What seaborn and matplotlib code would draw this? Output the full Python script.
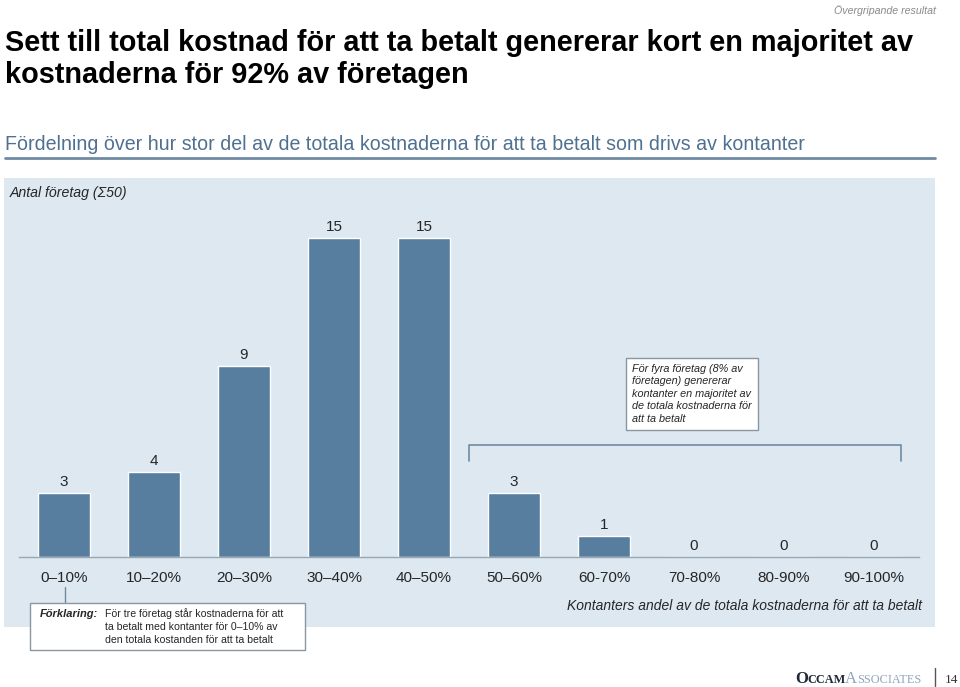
import pandas as pd
import matplotlib.pyplot as plt
import seaborn as sns
from matplotlib.patches import Rectangle
from matplotlib.lines import Line2D

# Data
categories = ["0\u201310%", "10\u201320%", "20\u201330%", "30\u201340%", "40\u201350%",
              "50\u201360%", "60-70%", "70-80%", "80-90%", "90-100%"]
counts = [3, 4, 9, 15, 15, 3, 1, 0, 0, 0]

title_lines = ["Sett till total kostnad för att ta betalt genererar kort en majoritet av",
               "kostnaderna för 92% av företagen"]
subtitle = "Fördelning över hur stor del av de totala kostnaderna för att ta betalt som drivs av kontanter"
callout = ("För fyra företag (8% av\nföretagen) genererar\nkontanter en majoritet av\n"
           "de totala kostnaderna för\natt ta betalt")
explain = "För tre företag står kostnaderna för att\nta betalt med kontanter för 0\u201310% av\nden totala kostanden för att ta betalt"

bar_color = "#577e9e"
panel_color = "#dde8f1"
line_color = "#6f8ba3"

sns.set_style("white")
plt.rcParams['font.family'] = ['Liberation Sans', 'DejaVu Sans']

df = pd.DataFrame({"category": categories, "count": counts})

fig = plt.figure(figsize=(9.6, 6.87), dpi=100)
W, H = 960, 687

def fx(x):
    return x / W

def fy(y):
    return 1 - y / H

# light blue panel behind the chart
fig.patches.append(Rectangle((fx(4), fy(627)), fx(931), 449 / H, transform=fig.transFigure,
                             facecolor=panel_color, edgecolor="none", zorder=-5))

ax = fig.add_axes([fx(19), fy(557), fx(900), (557 - 200) / H])
ax.set_facecolor("none")
sns.barplot(data=df, x="category", y="count", color=bar_color, edgecolor="white",
            linewidth=1, width=0.58, saturation=1, ax=ax)
ax.set_xlim(-0.5, 9.5)
ax.set_ylim(0, 357 / 21.25)
ax.set_xlabel("")
ax.set_ylabel("")
ax.set_yticks([])
for s in ["top", "left", "right"]:
    ax.spines[s].set_visible(False)
ax.spines["bottom"].set_color("#9aa7b2")
ax.spines["bottom"].set_linewidth(1)
ax.tick_params(axis="x", which="major", length=0, pad=10, labelsize=11)
ax.set_xticks([i - 0.5 for i in range(11)], minor=True)
ax.tick_params(axis="x", which="minor", length=4, color="#9aa7b2", direction="out")

for i, v in enumerate(counts):
    ax.annotate(str(v), (i, v), xytext=(0, 7), textcoords="offset pixels",
                ha="center", va="baseline", fontsize=11)

# texts above the chart
fig.text(fx(936), fy(5), "Övergripande resultat", ha="right", va="top", fontsize=7.7,
         style="italic", color="#8a8a8a")
for line, base in zip(title_lines, [51, 83]):
    fig.text(fx(5), fy(base), line, ha="left", va="baseline", fontsize=20.8,
             fontweight="bold", color="black")
fig.text(fx(5), fy(145), subtitle, ha="left", va="center", fontsize=14.1, color="#4f7191")
fig.lines.append(Line2D([fx(5), fx(935)], [fy(158), fy(158)], transform=fig.transFigure,
                        color=line_color, linewidth=2))
fig.text(fx(10), fy(193), "Antal företag (\u03a350)", ha="left", va="center", fontsize=10.2,
         style="italic")

# callout box and bracket
fig.text(fx(632), fy(364), callout, ha="left", va="top", fontsize=7.8, style="italic",
         linespacing=1.3,
         bbox=dict(boxstyle="square,pad=0.6", facecolor="white", edgecolor="#8a96a0", linewidth=1))
fig.lines.append(Line2D([fx(469), fx(469), fx(901), fx(901)],
                        [fy(461), fy(445), fy(445), fy(461)], transform=fig.transFigure,
                        color=line_color, linewidth=1.2))

# explanation box below first category
fig.lines.append(Line2D([fx(65), fx(65)], [fy(587), fy(603)], transform=fig.transFigure,
                        color=line_color, linewidth=1))
fig.patches.append(Rectangle((fx(30), fy(650)), fx(275), 47 / H, transform=fig.transFigure,
                             facecolor="white", edgecolor="#8a96a0", linewidth=1, zorder=2))
fig.text(fx(40), fy(614), "Förklaring:", ha="left", va="center", fontsize=8,
         style="italic", fontweight="bold", zorder=3)
fig.text(fx(105), fy(608), explain, ha="left", va="top", fontsize=7.6, linespacing=1.38,
         zorder=3)

fig.text(fx(922), fy(606), "Kontanters andel av de totala kostnaderna för att ta betalt",
         ha="right", va="center", fontsize=10, style="italic")

# footer logo, pieces placed one after the other
renderer = fig.canvas.get_renderer()
x = 795
for txt, size, weight, col in [("O", 12, "bold", "#1f2a36"), ("CCAM", 8.8, "bold", "#1f2a36"),
                               ("A", 12, "normal", "#8fa5bb"), ("SSOCIATES", 8.8, "normal", "#8fa5bb")]:
    t = fig.text(fx(x), fy(683), txt, ha="left", va="baseline", fontsize=size,
                 family="Liberation Serif", fontweight=weight, color=col)
    x = t.get_window_extent(renderer).x1 - 0.5
fig.lines.append(Line2D([fx(935), fx(935)], [fy(668), fy(686)], transform=fig.transFigure,
                        color="#555555", linewidth=1))
fig.text(fx(945), fy(683), "14", ha="left", va="baseline", fontsize=9.5,
         family="Liberation Serif", color="#333333")

fig.savefig("out.png", dpi=100)
